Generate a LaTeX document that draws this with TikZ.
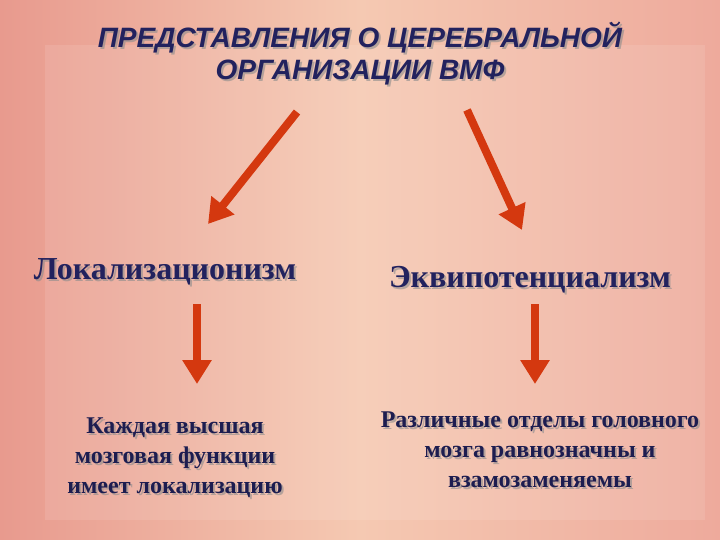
\documentclass[tikz,border=0pt]{standalone}
\usepackage{fontspec}
\setmainfont{Liberation Serif}
\newfontfamily\titlefont{Liberation Sans}
\usetikzlibrary{arrows.meta,shadows}
\definecolor{ink}{HTML}{22225E}
\definecolor{arr}{HTML}{D4380F}
\definecolor{bgl}{HTML}{E89A8E}
\definecolor{bgm}{HTML}{F5C9B2}
\definecolor{bgr}{HTML}{EEAA9C}
\tikzset{
  bigarrow/.style={draw=arr, line width=8pt, -{Triangle[length=24pt,width=28pt]}},
  ttl/.style={font=\titlefont\bfseries\itshape\fontsize{28}{32}\selectfont, text=ink, align=center},
  head/.style={font=\bfseries\fontsize{32}{36}\selectfont, text=ink},
  body/.style={font=\bfseries\fontsize{24}{30}\selectfont, text=ink!85!black, align=center},
  shd/.style={text=black!45, opacity=0.6}
}
\begin{document}
\begin{tikzpicture}[x=1pt,y=-1pt]
\useasboundingbox (0,0) rectangle (720,540);
\shade[left color=bgl, right color=bgm] (0,0) rectangle (360,540);
\shade[left color=bgm, right color=bgr] (360,0) rectangle (720,540);
\fill[white, opacity=0.10] (45,45) rectangle (705,520);
\node[ttl, shd] at (362,56) {ПРЕДСТАВЛЕНИЯ О ЦЕРЕБРАЛЬНОЙ\\ОРГАНИЗАЦИИ ВМФ};
\node[ttl] (title) at (360,54) {ПРЕДСТАВЛЕНИЯ О ЦЕРЕБРАЛЬНОЙ\\ОРГАНИЗАЦИИ ВМФ};
\node[head, shd] at (167,274) {Локализационизм};
\node[head] (lok) at (165,272) {Локализационизм};
\node[head, shd] at (532,282) {Эквипотенциализм};
\node[head] (ekv) at (530,280) {Эквипотенциализм};
\node[body, shd] at (177,460) {Каждая высшая\\мозговая функции\\имеет локализацию};
\node[body] (b1) at (175,458) {Каждая высшая\\мозговая функции\\имеет локализацию};
\node[body, shd] at (542,452) {Различные отделы головного\\мозга равнозначны и\\взамозаменяемы};
\node[body] (b2) at (540,450) {Различные отделы головного\\мозга равнозначны и\\взамозаменяемы};
\coordinate (a1s) at (297,112); \coordinate (a1e) at (208,224);
\coordinate (a2s) at (467,110); \coordinate (a2e) at (522,230);
\coordinate (a3s) at (197,304); \coordinate (a3e) at (197,384);
\coordinate (a4s) at (535,304); \coordinate (a4e) at (535,384);
\draw[bigarrow] (a1s) -- (a1e);
\draw[bigarrow] (a2s) -- (a2e);
\draw[bigarrow] (a3s) -- (a3e);
\draw[bigarrow] (a4s) -- (a4e);
\end{tikzpicture}
\end{document}
